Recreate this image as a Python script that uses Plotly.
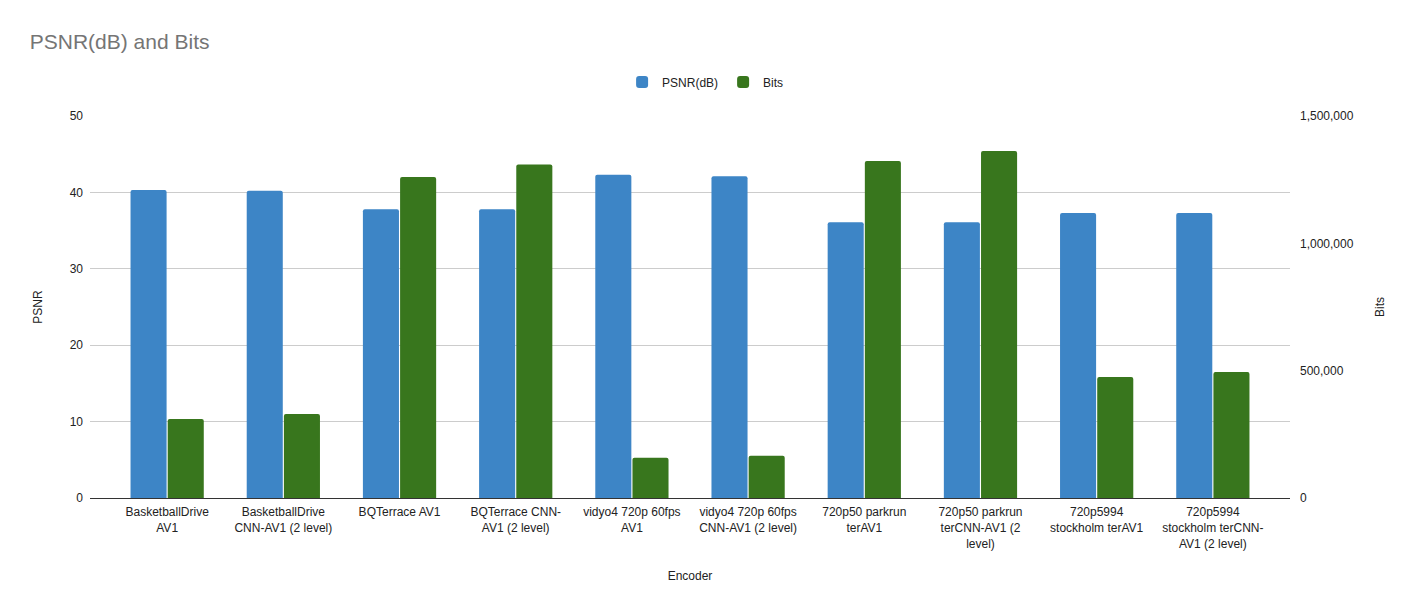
import plotly.graph_objects as go

categories = [
    "BasketballDrive AV1",
    "BasketballDrive CNN-AV1 (2 level)",
    "BQTerrace AV1",
    "BQTerrace CNN-AV1 (2 level)",
    "vidyo4 720p 60fps AV1",
    "vidyo4 720p 60fps CNN-AV1 (2 level)",
    "720p50 parkrun terAV1",
    "720p50 parkrun terCNN-AV1 (2 level)",
    "720p5994 stockholm terAV1",
    "720p5994 stockholm terCNN-AV1 (2 level)",
]
tick_labels = [
    "BasketballDrive<br>AV1",
    "BasketballDrive<br>CNN-AV1 (2 level)",
    "BQTerrace AV1",
    "BQTerrace CNN-<br>AV1 (2 level)",
    "vidyo4 720p 60fps<br>AV1",
    "vidyo4 720p 60fps<br>CNN-AV1 (2 level)",
    "720p50 parkrun<br>terAV1",
    "720p50 parkrun<br>terCNN-AV1 (2<br>level)",
    "720p5994<br>stockholm terAV1",
    "720p5994<br>stockholm terCNN-<br>AV1 (2 level)",
]
psnr = [40.3, 40.2, 37.8, 37.8, 42.3, 42.1, 36.1, 36.1, 37.3, 37.3]
bits = [310000, 330000, 1260000, 1310000, 158000, 166000, 1323000, 1363000, 475000, 495000]

font = "Liberation Sans, Arial, sans-serif"

fig = go.Figure()
fig.add_trace(go.Bar(
    x=categories, y=psnr, name="PSNR(dB)", yaxis="y", offsetgroup="1",
    marker=dict(color="#3d85c6", cornerradius=2, line=dict(width=0)),
))
fig.add_trace(go.Bar(
    x=categories, y=bits, name="Bits", yaxis="y2", offsetgroup="2",
    marker=dict(color="#38761d", cornerradius=2, line=dict(width=0)),
))

fig.update_layout(
    width=1417, height=609,
    margin=dict(l=90, r=127, t=116, b=111),
    paper_bgcolor="white", plot_bgcolor="white",
    font=dict(family=font, size=12, color="#222222"),
    title=dict(text="PSNR(dB) and Bits", x=0.021, xref="container", xanchor="left",
               y=0.931, yanchor="middle",
               font=dict(size=21, color="#757575", family=font)),
    barmode="group", bargap=0.36, bargroupgap=0.03,
    legend=dict(orientation="h", x=0.513, xanchor="center", y=1.089, yanchor="middle",
                font=dict(size=12, color="#222222"), traceorder="normal"),
    xaxis=dict(
        tickmode="array", tickvals=categories, ticktext=tick_labels,
        range=[-0.664, 9.664], showgrid=False, showline=True,
        linecolor="#333333", linewidth=1, ticks="", ticklabelstandoff=3,
        title=dict(text="Encoder", font=dict(size=12, color="#222222"), standoff=22),
    ),
    yaxis=dict(
        range=[0, 50], tickvals=[0, 10, 20, 30, 40, 50],
        showgrid=True, gridcolor="#cccccc", zeroline=False,
        showline=False, ticks="", ticklabelstandoff=6,
        title=dict(text="PSNR", font=dict(size=12, color="#222222"), standoff=24),
    ),
    yaxis2=dict(
        range=[0, 1500000], tickvals=[0, 500000, 1000000, 1500000],
        tickformat=",d", overlaying="y", side="right",
        showgrid=False, zeroline=False, showline=False, ticks="", ticklabelstandoff=9,
        title=dict(text="Bits", font=dict(size=12, color="#222222"), standoff=22),
    ),
)

fig.write_html("out.html")
